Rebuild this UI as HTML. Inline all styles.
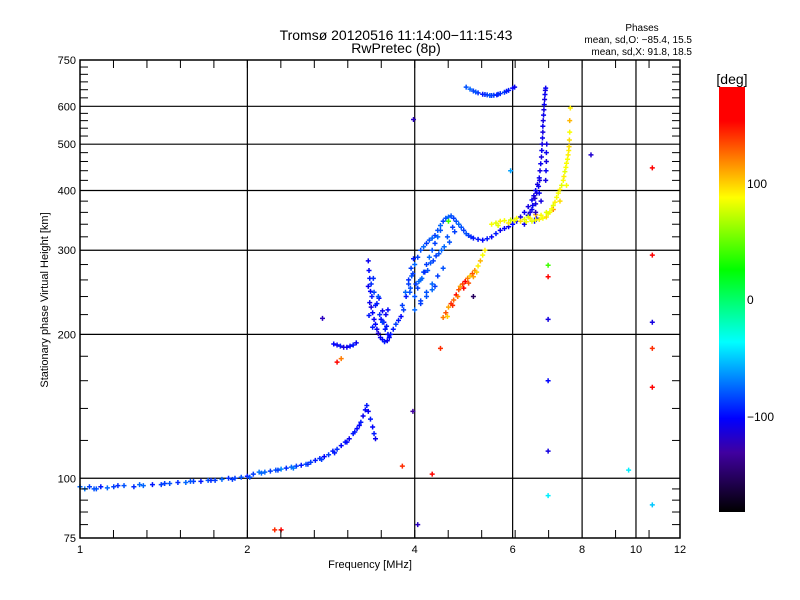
<!DOCTYPE html>
<html><head><meta charset="utf-8"><style>
body{margin:0;background:#fff;}
svg{display:block;font-family:"Liberation Sans","DejaVu Sans",sans-serif;}
</style></head><body>
<svg id="chart" width="800" height="600" viewBox="0 0 800 600">
<rect width="800" height="600" fill="#fff"/>
<text x="396" y="40" text-anchor="middle" font-size="14">Tromsø 20120516 11:14:00−11:15:43</text>
<text x="396" y="53" text-anchor="middle" font-size="14">RwPretec (8p)</text>
<text x="642" y="31" text-anchor="middle" font-size="10">Phases</text>
<text x="692" y="43" text-anchor="end" font-size="10">mean, sd,O: −85.4, 15.5</text>
<text x="692" y="55" text-anchor="end" font-size="10">mean, sd,X:  91.8, 18.5</text>
<g id="grid"></g>
<g id="marks"></g>
<g id="axes"></g>
<text x="370" y="568" text-anchor="middle" font-size="11">Frequency [MHz]</text>
<text transform="translate(48,300) rotate(-90)" text-anchor="middle" font-size="11">Stationary phase Virtual Height [km]</text>
<defs><linearGradient id="cmap" x1="0" y1="0" x2="0" y2="1">
<stop offset="0" stop-color="#ff0000"/><stop offset="0.08" stop-color="#ff0000"/><stop offset="0.17" stop-color="#ff8000"/><stop offset="0.26" stop-color="#ffff00"/><stop offset="0.43" stop-color="#00ff00"/><stop offset="0.6" stop-color="#00ffff"/><stop offset="0.78" stop-color="#0000ff"/><stop offset="0.86" stop-color="#4000a0"/><stop offset="1" stop-color="#000000"/>
</linearGradient></defs>
<rect x="719" y="87" width="26" height="425" fill="url(#cmap)"/>
<text x="732" y="84" text-anchor="middle" font-size="14">[deg]</text>
<text x="747" y="188" font-size="12">100</text>
<text x="747" y="304" font-size="12">0</text>
<text x="747" y="421" font-size="12">−100</text>
</svg>
<script>
const xTicks=[1,2,4,6,8,10,12];
const yTicks=[75,100,200,300,400,500,600,750];
const yMinor=[80,85,90,95,120,140,160,180,220,240,260,280,320,340,360,380,420,440,460,480,520,540,560,580,625,650,675,700,725];
// E-layer trace
const eF=[1.0,1.02,1.04,1.06,1.09,1.12,1.15,1.2,1.25,1.3,1.35,1.4,1.45,1.5,1.55,1.6,1.65,1.7,1.75,1.8,1.85,1.9,1.95,2.0,2.05,2.1,2.15,2.2,2.25,2.3,2.35,2.4,2.45,2.5,2.55,2.6,2.65,2.7,2.75,2.8,2.85,2.9,2.95,3.0,3.05,3.1,3.15,3.2,3.23,3.26,3.28,3.3,3.33,3.36,3.38,3.4,1.07,1.17,1.28,1.42,1.58,1.72,1.88,2.02,2.12,2.27,2.42,2.57,2.72,2.87,3.02,3.12,3.18];
const eH=[96,95,96,95,96,95.5,96,96.5,96,96.5,97,97,97.5,98,98,98.5,98.5,99,99,99.5,100,100,100.5,101,102,103,103,103.5,104,104.5,105,105.5,106,106.5,107,108,109,110,111,112,114,115,117,119,121,124,127,131,135,139,142,138,133,128,124,121,95,96.5,97,97.5,98.5,99,99.5,100.5,102.5,104,105,107,109.5,113,119,125,129];
const eP=[-75,-70,-85,-80,-95,-75,-85,-80,-90,-75,-95,-85,-80,-90,-75,-85,-95,-80,-85,-75,-90,-85,-80,-95,-85,-70,-75,-85,-80,-65,-90,-75,-85,-95,-80,-85,-95,-90,-100,-85,-95,-90,-100,-95,-105,-95,-100,-95,-105,-100,-95,-105,-95,-100,-95,-105,-80,-90,-75,-85,-80,-90,-85,-80,-75,-85,-70,-90,-85,-95,-100,-95,-100];
// small piece near 190 km
const sF=[2.86,2.9,2.94,2.98,3.02,3.06,3.1,3.14];
const sH=[191,190,189,188,188,189,190,192];
const sP=[-100,-105,-95,-115,-105,-100,-95,-105];
// F-layer blue trace
const fF=[3.30,3.31,3.32,3.30,3.33,3.35,3.32,3.34,3.36,3.31,3.38,3.40,3.36,3.42,3.44,3.47,3.50,3.53,3.57,3.60,3.62,3.48,3.52,3.56,3.58,3.55,3.40,3.45,3.50,3.66,3.7,3.74,3.78,3.82,3.86,3.9,3.94,3.98,3.8,3.85,3.9,3.95,4.0,4.05,4.1,4.15,4.2,4.25,4.3,4.35,4.4,4.45,4.5,4.55,4.6,4.65,4.7,4.75,4.8,4.85,4.9,4.95,5.0,5.05,5.1,5.2,5.3,5.4,5.5,5.6,5.7,5.8,5.9,6.0,6.1,6.2,6.3,6.4,6.5,6.55,6.6,6.65,6.7,6.72,6.74,6.76,6.77,6.78,6.79,6.8,6.8,6.81,6.82,6.83,6.84,6.85,6.86,6.87,6.88,6.88,6.89,6.9,6.9,6.91,4.0,4.05,4.1,4.15,4.2,4.25,4.3,4.35,4.4,4.45,4.1,4.2,4.3,4.4,4.5,4.0,4.1,4.2,4.3,4.35,3.92,4.02,4.12,4.22,4.32,4.42,4.52,6.3,6.4,6.5,6.6,3.34,3.38,3.42,3.46,3.5,3.54,3.58,3.44,3.37,3.93,3.97,4.07,4.17,4.27,4.37,4.47,4.62,4.72,4.58,4.68,6.45,6.52,6.58,6.63,6.68,6.71,6.7,6.75,6.62,6.57];
const fH=[285,272,262,252,246,240,233,228,222,219,215,210,207,205,201,197,195,193,194,197,200,215,212,208,225,220,230,238,224,205,210,214,218,225,240,260,275,288,230,245,255,265,280,290,300,305,310,315,318,322,330,338,345,350,352,354,350,345,340,335,330,325,322,320,318,316,315,317,320,325,330,333,336,340,345,352,360,370,382,390,400,412,425,440,455,470,485,500,515,530,545,560,575,590,605,620,635,648,655,420,440,460,480,500,240,250,260,270,280,290,300,310,320,330,235,245,255,265,275,225,232,240,248,252,245,255,262,272,285,295,305,340,355,365,375,255,245,232,220,212,205,200,240,262,250,268,258,270,282,292,300,312,328,320,335,360,372,385,395,408,420,395,380,350,345];
const fP=[-105,-100,-95,-105,-100,-95,-105,-110,-100,-95,-105,-100,-95,-105,-115,-105,-100,-95,-105,-100,-95,-100,-105,-95,-100,-105,-95,-100,-105,-95,-85,-95,-100,-85,-95,-90,-85,-95,-85,-75,-85,-80,-75,-85,-80,-75,-85,-80,-75,-85,-80,-75,-85,-80,-75,-80,-85,-80,-75,-80,-85,-80,-85,-90,-95,-95,-100,-95,-100,-95,-105,-100,-105,-100,-105,-110,-105,-110,-105,-110,-105,-110,-105,-110,-105,-110,-105,-110,-105,-110,-105,-110,-105,-110,-105,-110,-105,-110,-105,-110,-105,-110,-105,-110,-80,-85,-75,-80,-85,-75,-80,-85,-75,-80,-85,-80,-75,-85,-80,-75,-85,-80,-75,-85,-80,-85,-75,-80,-85,-80,-75,-105,-110,-105,-110,-90,-85,-95,-90,-85,-95,-100,-80,-90,-80,-85,-75,-90,-80,-85,-75,-80,-85,-80,-85,-110,-105,-115,-110,-105,-110,-105,-110,-105,-100];
// top trace near 640 km
const tF=[4.95,5.03,5.1,5.2,5.3,5.4,5.46,5.55,5.62,5.7,5.8,5.9,6.0,6.05,5.15,5.35,5.5,5.65,5.85];
const tH=[658,652,646,640,636,634,632,633,634,638,642,648,655,658,643,635,632,636,645];
const tP=[-80,-75,-85,-90,-95,-85,-80,-85,-95,-90,-85,-95,-100,-105,-80,-90,-85,-90,-95];
// yellow X trace
const yF=[5.5,5.6,5.7,5.8,5.95,6.05,6.2,6.35,6.5,6.6,6.7,6.8,6.9,7.0,7.1,7.2,7.3,7.4,7.45,7.5,7.55,7.58,7.6,7.6,7.62,6.4,6.6,6.9,7.1,7.3,7.5,5.65,5.9,6.1,6.3,6.45,6.75,6.95,7.05,7.15,7.25,7.35,7.42,7.48,7.53,7.57,7.59];
const yH=[340,342,345,346,347,346,345,344,345,347,348,350,352,360,372,387,402,420,438,456,475,494,530,560,595,352,356,360,365,380,410,338,342,350,348,350,355,358,366,378,395,410,428,447,465,485,510];
const yP=[85,80,90,85,75,85,95,85,80,85,90,85,95,85,80,85,90,85,80,85,90,95,85,105,90,75,105,80,115,95,85,80,90,85,80,90,85,80,85,90,85,80,90,85,85,90,95];
// orange X trace
const oF=[4.5,4.55,4.6,4.65,4.7,4.75,4.8,4.83,4.88,4.93,4.98,5.03,5.08,5.13,5.2,5.25,5.3,5.35,4.58,4.68,4.78,4.9,5.0,5.1,5.17];
const oH=[217,222,228,232,236,242,248,252,255,258,262,265,268,272,278,285,293,300,218,230,240,250,256,264,270];
const oP=[120,130,110,140,125,150,130,110,135,160,120,100,130,115,90,105,85,90,100,140,120,150,130,110,100];
// scattered outliers
const qF=[3.98,4.05,3.97,2.73,2.24,2.3,3.8,4.3,4.45,2.9,2.95,8.3,6.95,6.95,6.95,6.95,6.95,6.95,10.7,10.7,10.7,10.7,10.7,10.7,9.7,5.95,6.6,4.6,5.1];
const qH=[563,80,138,216,78,78,106,102,187,175,178,475,279,264,215,160,114,92,446,293,212,187,155,88,104,440,360,345,240];
const qP=[-120,-120,-130,-120,140,150,140,150,140,150,120,-115,40,150,-110,-100,-110,-40,170,170,-110,140,160,-50,-40,-60,-120,40,-150];

const X0=80,X1=680,Y0=60,Y1=538;
function xs(f){return X0+(X1-X0)*Math.log(f)/Math.log(12);}
function ys(h){return Y1-(Y1-Y0)*Math.log(h/75)/Math.log(10);}
const stops=[[0,[255,0,0]],[0.08,[255,0,0]],[0.17,[255,128,0]],[0.26,[255,255,0]],[0.43,[0,255,0]],[0.6,[0,255,255]],[0.78,[0,0,255]],[0.86,[64,0,160]],[1,[0,0,0]]];
function col(p){let t=(180-p)/360;t=Math.max(0,Math.min(1,t));
 for(let i=1;i<stops.length;i++){if(t<=stops[i][0]){const a=stops[i-1],b=stops[i];const u=(t-a[0])/(b[0]-a[0]||1);
 return 'rgb('+a[1].map((v,k)=>Math.round(v+(b[1][k]-v)*u)).join(',')+')';}}return '#000';}
const NS='http://www.w3.org/2000/svg';
function mk(tag,attrs,parent){const e=document.createElementNS(NS,tag);for(const k in attrs)e.setAttribute(k,attrs[k]);parent.appendChild(e);return e;}
const grid=document.getElementById('grid'),axes=document.getElementById('axes'),marks=document.getElementById('marks');
[2,4,6,8,10].forEach(f=>{const l=mk('line',{x1:xs(f),x2:xs(f),y1:Y0,y2:Y1,stroke:'#000','stroke-width':1.2},grid);

});
[100,200,300,400,500,600].forEach(h=>{const l=mk('line',{x1:X0,x2:X1,y1:ys(h),y2:ys(h),stroke:'#000','stroke-width':1.2},grid);

});
const fr=mk('rect',{x:X0,y:Y0,width:X1-X0,height:Y1-Y0,fill:'none',stroke:'#000','stroke-width':1.5},axes);


for(let k=1;k<18;k++){const x=X0+(X1-X0)*(k/5)/ (Math.log(12)/Math.log(2));if(x>=X1-1)break;
 [[Y1,Y1-8],[Y0,Y0+8]].forEach(p=>{const l=mk('line',{x1:x,x2:x,y1:p[0],y2:p[1],stroke:'#000','stroke-width':1},axes);
 
 });}
yMinor.forEach(h=>{[[X0,X0+8],[X1,X1-8]].forEach(p=>{const l=mk('line',{x1:p[0],x2:p[1],y1:ys(h),y2:ys(h),stroke:'#000','stroke-width':1},axes);
 
 });});
xTicks.forEach(f=>{const t=mk('text',{x:xs(f),y:Y1+15,'text-anchor':'middle','font-size':11},axes);t.textContent=f;

});
yTicks.forEach(h=>{const t=mk('text',{x:X0-4,y:ys(h)+4,'text-anchor':'end','font-size':11},axes);t.textContent=h;

});
function plot(F,H,P,name){for(let i=0;i<F.length;i++){const x=xs(F[i]),y=ys(H[i]);
 const p=mk('path',{d:`M${x-2.5} ${y}h5M${x} ${y-2.5}v5`,stroke:col(P[i]),'stroke-width':1.5,fill:'none'},marks);
 
 }}
plot(eF,eH,eP,'e-trace-point');plot(sF,sH,sP,'f1-fragment-point');plot(fF,fH,fP,'f-trace-point');
plot(tF,tH,tP,'top-trace-point');plot(yF,yH,yP,'x-trace-point');plot(oF,oH,oP,'x-lower-trace-point');plot(qF,qH,qP,'outlier-point');
</script>
</body></html>
